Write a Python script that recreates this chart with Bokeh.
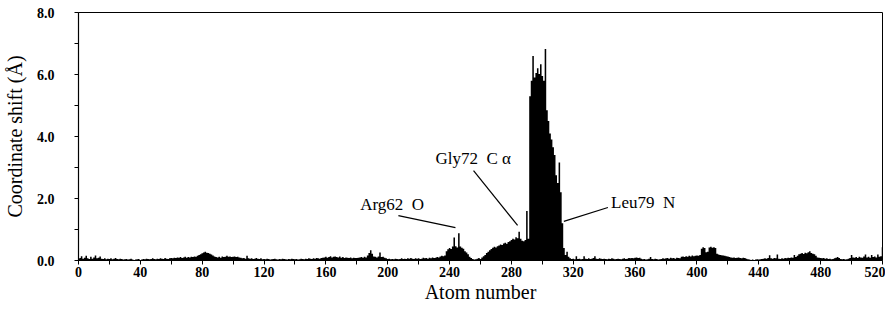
from bokeh.plotting import figure
from bokeh.models import ColumnDataSource, Range1d, FixedTicker
from bokeh.core.properties import value
from bokeh.embed import file_html
from bokeh.resources import INLINE

# ---- data: coordinate shift (Angstrom) per atom, atoms 0..520 ----
shift = [
    0.05, 0.08, 0.14, 0.06, 0.09, 0.15, 0.07, 0.05, 0.12, 0.06, 0.10, 0.16, 0.07, 0.09, 0.13, 0.06, 0.05, 0.07, 0.04, 0.06,
    0.05, 0.07, 0.04, 0.06, 0.08, 0.05, 0.04, 0.06, 0.05, 0.03, 0.04, 0.05, 0.03, 0.04, 0.06, 0.03, 0.02, 0.03, 0.04, 0.05,
    0.02, 0.03, 0.05, 0.04, 0.06, 0.05, 0.04, 0.05, 0.07, 0.05, 0.04, 0.06, 0.05, 0.07, 0.06, 0.05, 0.08, 0.06, 0.05, 0.07,
    0.08, 0.07, 0.09, 0.08, 0.10, 0.09, 0.11, 0.08, 0.10, 0.12, 0.09, 0.11, 0.10, 0.12, 0.11, 0.13, 0.12, 0.15, 0.18, 0.20,
    0.23, 0.26, 0.28, 0.25, 0.24, 0.22, 0.19, 0.16, 0.13, 0.11, 0.10, 0.12, 0.09, 0.13, 0.11, 0.12, 0.15, 0.12, 0.13, 0.11,
    0.12, 0.13, 0.11, 0.12, 0.10, 0.09, 0.07, 0.08, 0.06, 0.15, 0.07, 0.06, 0.07, 0.05, 0.06, 0.08, 0.06, 0.05, 0.07, 0.04,
    0.05, 0.04, 0.06, 0.05, 0.03, 0.04, 0.05, 0.06, 0.04, 0.03, 0.05, 0.04, 0.06, 0.05, 0.04, 0.03, 0.05, 0.04, 0.06, 0.05,
    0.04, 0.05, 0.03, 0.04, 0.06, 0.05, 0.04, 0.06, 0.05, 0.07, 0.06, 0.05, 0.07, 0.06, 0.08, 0.07, 0.06, 0.08, 0.09, 0.10,
    0.12, 0.09, 0.11, 0.14, 0.10, 0.12, 0.13, 0.11, 0.10, 0.13, 0.09, 0.11, 0.08, 0.10, 0.09, 0.08, 0.10, 0.07, 0.09, 0.08,
    0.08, 0.09, 0.10, 0.11, 0.09, 0.12, 0.10, 0.16, 0.24, 0.33, 0.22, 0.13, 0.12, 0.10, 0.13, 0.26, 0.11, 0.12, 0.09, 0.07,
    0.05, 0.06, 0.04, 0.05, 0.04, 0.06, 0.05, 0.04, 0.05, 0.07, 0.05, 0.06, 0.05, 0.07, 0.06, 0.08, 0.06, 0.05, 0.07, 0.06,
    0.07, 0.05, 0.06, 0.09, 0.07, 0.08, 0.06, 0.09, 0.07, 0.10, 0.08, 0.09, 0.11, 0.10, 0.13, 0.15, 0.14, 0.16, 0.30, 0.36,
    0.40, 0.37, 0.45, 0.74, 0.46, 0.42, 0.88, 0.45, 0.41, 0.38, 0.30, 0.26, 0.20, 0.12, 0.08, 0.05, 0.03, 0.04, 0.06, 0.08,
    0.05, 0.10, 0.14, 0.18, 0.24, 0.28, 0.33, 0.37, 0.41, 0.44, 0.42, 0.46, 0.48, 0.52, 0.50, 0.55, 0.57, 0.54, 0.60, 0.62,
    0.66, 0.70, 0.68, 0.75, 0.72, 0.93, 0.70, 0.64, 0.62, 0.66, 1.60, 0.70, 5.30, 5.80, 6.60, 5.90, 6.05, 6.20, 6.02, 6.33,
    5.95, 5.80, 6.82, 4.85, 4.50, 4.10, 3.90, 3.65, 3.40, 2.75, 2.50, 3.16, 2.20, 1.20, 0.40, 0.18, 0.28, 0.12, 0.07, 0.05,
    0.06, 0.04, 0.14, 0.05, 0.06, 0.04, 0.05, 0.14, 0.06, 0.05, 0.07, 0.05, 0.06, 0.08, 0.14, 0.06, 0.05, 0.07, 0.06, 0.05,
    0.06, 0.05, 0.04, 0.06, 0.05, 0.07, 0.06, 0.04, 0.05, 0.06, 0.05, 0.04, 0.06, 0.07, 0.05, 0.06, 0.08, 0.07, 0.08, 0.07,
    0.09, 0.10, 0.08, 0.09, 0.06, 0.04, 0.05, 0.03, 0.04, 0.06, 0.11, 0.05, 0.04, 0.06, 0.05, 0.03, 0.04, 0.05, 0.07, 0.06,
    0.07, 0.08, 0.06, 0.09, 0.07, 0.08, 0.06, 0.09, 0.08, 0.07, 0.12, 0.13, 0.11, 0.14, 0.12, 0.15, 0.13, 0.16, 0.14, 0.15,
    0.16, 0.15, 0.18, 0.38, 0.43, 0.40, 0.27, 0.28, 0.42, 0.44, 0.41, 0.43, 0.40, 0.22, 0.19, 0.18, 0.17, 0.16, 0.15, 0.14,
    0.13, 0.11, 0.10, 0.09, 0.10, 0.08, 0.09, 0.10, 0.08, 0.07, 0.09, 0.08, 0.06, 0.04, 0.03, 0.02, 0.03, 0.02, 0.03, 0.04,
    0.03, 0.04, 0.05, 0.06, 0.07, 0.06, 0.08, 0.17, 0.07, 0.06, 0.08, 0.07, 0.19, 0.06, 0.05, 0.07, 0.06, 0.08, 0.07, 0.09,
    0.08, 0.10, 0.09, 0.18, 0.11, 0.15, 0.20, 0.22, 0.24, 0.21, 0.25, 0.23, 0.27, 0.30, 0.24, 0.22, 0.20, 0.15, 0.10, 0.09,
    0.08, 0.07, 0.08, 0.06, 0.07, 0.05, 0.06, 0.04, 0.05, 0.07, 0.09, 0.11, 0.08, 0.05, 0.04, 0.05, 0.03, 0.04, 0.06, 0.08,
    0.18, 0.10, 0.09, 0.11, 0.08, 0.12, 0.10, 0.09, 0.13, 0.19, 0.10, 0.12, 0.09, 0.18, 0.11, 0.13, 0.10, 0.19, 0.12, 0.14,
    0.43,
]
atoms = list(range(len(shift)))

# ---- ticks ----
x_ticks = [0, 40, 80, 120, 160, 200, 240, 280, 320, 360, 400, 440, 480, 520]
x_minor = [20, 60, 100, 140, 180, 220, 260, 300, 340, 380, 420, 460, 500]
y_ticks = [0, 2, 4, 6, 8]
y_tick_labels = ["0.0", "2.0", "4.0", "6.0", "8.0"]
y_minor = [1, 3, 5, 7]

# ---- annotations ----
ann_labels = ["Arg62\u00a0\u00a0O", "Gly72\u00a0\u00a0C\u00a0\u03b1", "Leu79\u00a0\u00a0N"]
ann_text_x = [182.2, 230.9, 344.4]
ann_text_y = [1.81, 3.29, 1.87]
ann_x0 = [206.9, 255.5, 342.4]
ann_y0 = [1.45, 2.90, 1.71]
ann_x1 = [243.8, 284.0, 313.9]
ann_y1 = [1.06, 1.13, 1.26]

SERIF = "Liberation Serif"

p = figure(width=885, height=312, output_backend="svg", toolbar_location=None,
           x_range=Range1d(0, 520), y_range=Range1d(0, 8),
           min_border_left=71, min_border_right=3, min_border_top=12, min_border_bottom=52)

p.background_fill_color = "white"
p.border_fill_color = "white"
p.outline_line_color = "black"
p.outline_line_width = 1
p.xgrid.visible = False
p.ygrid.visible = False

src = ColumnDataSource(dict(atom=atoms, shift=shift, base=[0] * len(shift)))
p.varea_step(x="atom", y1="base", y2="shift", step_mode="center", source=src, fill_color="black")

ann = ColumnDataSource(dict(label=ann_labels, tx=ann_text_x, ty=ann_text_y,
                            x0=ann_x0, y0=ann_y0, x1=ann_x1, y1=ann_y1))
p.segment(x0="x0", y0="y0", x1="x1", y1="y1", source=ann, line_color="black", line_width=1.2)
p.text(x="tx", y="ty", text="label", source=ann, text_font=value(SERIF), text_font_size="17px",
       text_align="left", text_baseline="middle", text_color="black")

# axes
xa = p.xaxis[0]
xa.ticker = FixedTicker(ticks=x_ticks, minor_ticks=x_minor)
xa.axis_label = "Atom number"
ya = p.yaxis[0]
ya.ticker = FixedTicker(ticks=y_ticks, minor_ticks=y_minor)
ya.major_label_overrides = {t: l for t, l in zip(y_ticks, y_tick_labels)}
ya.axis_label = "Coordinate shift (Å)"

for ax in (xa, ya):
    ax.axis_line_color = "black"
    ax.axis_line_width = 1.2
    ax.major_tick_line_color = "black"
    ax.minor_tick_line_color = "black"
    ax.major_tick_in = 0
    ax.minor_tick_in = 0
    ax.major_tick_out = 4
    ax.minor_tick_out = 4
    ax.major_label_text_font = SERIF
    ax.major_label_text_font_style = "bold"
    ax.major_label_text_font_size = "14px"
    ax.major_label_text_color = "black"
    ax.axis_label_text_font = SERIF
    ax.axis_label_text_font_style = "normal"
    ax.axis_label_text_font_size = "20px"
    ax.axis_label_text_color = "black"

xa.major_label_standoff = 2
xa.axis_label_standoff = 1
ya.major_label_standoff = 20
ya.axis_label_standoff = 8

open("out.html", "w").write(file_html(p, INLINE))
